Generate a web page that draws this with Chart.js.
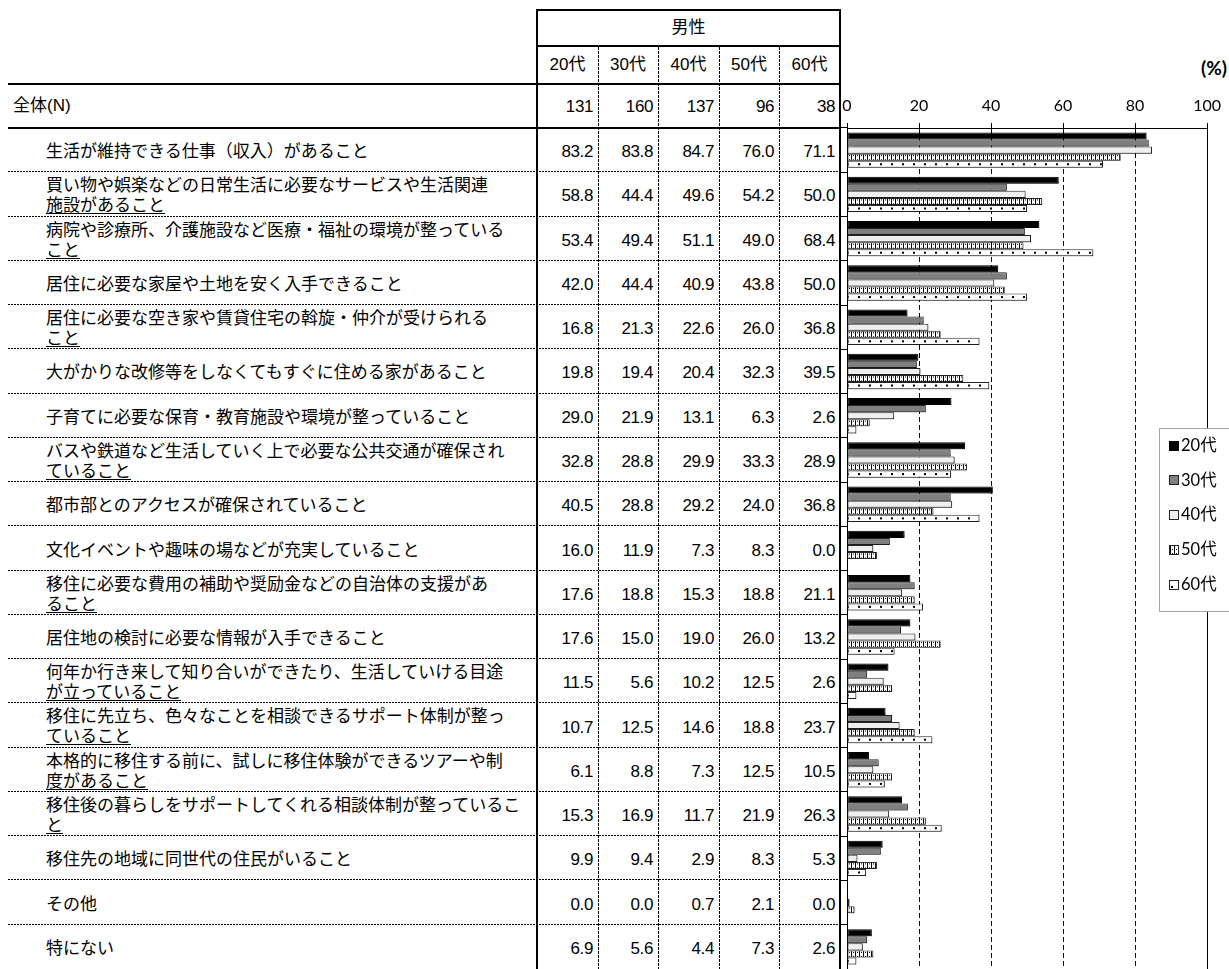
<!DOCTYPE html>
<html lang="ja">
<head>
<meta charset="utf-8">
<script src="https://cdn.jsdelivr.net/npm/chart.js@4.4.1/dist/chart.umd.min.js"></script>
<style>
  html, body { margin: 0; padding: 0; background: #fff; }
  body { width: 1229px; height: 969px; position: relative; overflow: hidden;
         font-family: "Liberation Sans", "Noto Sans CJK JP", sans-serif; color: #000; }
  .solid { position: absolute; background: #000; }
  .hdash { position: absolute; height: 1px;
           background: repeating-linear-gradient(to right, #000 0 2px, transparent 2px 3px); }
  .vdot  { position: absolute; width: 1px;
           background: repeating-linear-gradient(to bottom, #000 0 3px, transparent 3px 4px); }
  .txt   { position: absolute; white-space: nowrap; line-height: 20px; height: 20px; }
  .lbl   { position: absolute; white-space: nowrap; font-family: "Noto Sans CJK JP", sans-serif;
           font-size: 17px; line-height: 20px; }
  .lbl .l2 { display: inline-block; border-bottom: 1px solid #000; line-height: 19px; }
  .num   { text-align: right; font-size: 17px; letter-spacing: -0.4px; }
  .head  { text-align: center; font-size: 17px; }
  #unit  { position: absolute; right: 2px; top: 57px; font-family: Lato, sans-serif;
           font-weight: bold; font-size: 19px; line-height: 22px; }
  #chartBox { position: absolute; left: 800px; top: 0; width: 429px; height: 969px; }
</style>
</head>
<body>
<div id="table"></div>
<div id="unit">(%)</div>
<div id="chartBox"><canvas id="c" width="429" height="969"></canvas></div>
<script>
// ---- data -------------------------------------------------------------
const groupTitle = '男性';
const totalLabel = '全体(N)';
const ageGroups = ['20代', '30代', '40代', '50代', '60代'];
const sampleSizes = [131, 160, 137, 96, 38];

const categories = [
  '生活が維持できる仕事（収入）があること',
  '買い物や娯楽などの日常生活に必要なサービスや生活関連\n施設があること',
  '病院や診療所、介護施設など医療・福祉の環境が整っている\nこと',
  '居住に必要な家屋や土地を安く入手できること',
  '居住に必要な空き家や賃貸住宅の斡旋・仲介が受けられる\nこと',
  '大がかりな改修等をしなくてもすぐに住める家があること',
  '子育てに必要な保育・教育施設や環境が整っていること',
  'バスや鉄道など生活していく上で必要な公共交通が確保され\nていること',
  '都市部とのアクセスが確保されていること',
  '文化イベントや趣味の場などが充実していること',
  '移住に必要な費用の補助や奨励金などの自治体の支援があ\nること',
  '居住地の検討に必要な情報が入手できること',
  '何年か行き来して知り合いができたり、生活していける目途\nが立っていること',
  '移住に先立ち、色々なことを相談できるサポート体制が整っ\nていること',
  '本格的に移住する前に、試しに移住体験ができるツアーや制\n度があること',
  '移住後の暮らしをサポートしてくれる相談体制が整っているこ\nと',
  '移住先の地域に同世代の住民がいること',
  'その他',
  '特にない'
];

const male20s = [83.2, 58.8, 53.4, 42.0, 16.8, 19.8, 29.0, 32.8, 40.5, 16.0, 17.6, 17.6, 11.5, 10.7, 6.1, 15.3, 9.9, 0.0, 6.9];
const male30s = [83.8, 44.4, 49.4, 44.4, 21.3, 19.4, 21.9, 28.8, 28.8, 11.9, 18.8, 15.0, 5.6, 12.5, 8.8, 16.9, 9.4, 0.0, 5.6];
const male40s = [84.7, 49.6, 51.1, 40.9, 22.6, 20.4, 13.1, 29.9, 29.2, 7.3, 15.3, 19.0, 10.2, 14.6, 7.3, 11.7, 2.9, 0.7, 4.4];
const male50s = [76.0, 54.2, 49.0, 43.8, 26.0, 32.3, 6.3, 33.3, 24.0, 8.3, 18.8, 26.0, 12.5, 18.8, 12.5, 21.9, 8.3, 2.1, 7.3];
const male60s = [71.1, 50.0, 68.4, 50.0, 36.8, 39.5, 2.6, 28.9, 36.8, 0.0, 21.1, 13.2, 2.6, 23.7, 10.5, 26.3, 5.3, 0.0, 2.6];
const seriesValues = [male20s, male30s, male40s, male50s, male60s];

const xTickValues = [0, 20, 40, 60, 80, 100];

// ---- table (left side) -----------------------------------------------
const table = document.getElementById('table');
const colEdges = [537, 598, 658, 719, 779, 840];
const dataTop = 128, dataBottom = 969;
const rowH = (dataBottom - dataTop) / categories.length;

function box(cls, css, text) {
  const d = document.createElement('div');
  d.className = cls;
  for (const k in css) d.style[k] = typeof css[k] === 'number' ? css[k] + 'px' : css[k];
  if (text != null) d.textContent = text;
  table.appendChild(d);
  return d;
}

// frame lines
box('solid', { left: 536, top: 9, width: 2, height: 960 });
box('solid', { left: 839, top: 9, width: 2, height: 960 });
box('solid', { left: 536, top: 9, width: 305, height: 2 });
box('solid', { left: 536, top: 45, width: 305, height: 2 });
box('solid', { left: 8, top: 83, width: 833, height: 2 });
box('solid', { left: 8, top: 127, width: 833, height: 2 });
for (let j = 1; j < colEdges.length - 1; j++) {
  box('vdot', { left: colEdges[j], top: 47, height: 922 });
}
for (let i = 1; i < categories.length; i++) {
  box('hdash', { left: 8, top: Math.round(dataTop + i * rowH) - 1, width: 832 });
}

// header texts
box('txt head', { left: colEdges[0], width: colEdges[5] - colEdges[0], top: 18 }, groupTitle);
ageGroups.forEach((g, j) => {
  box('txt head', { left: colEdges[j], width: colEdges[j + 1] - colEdges[j], top: 55 }, g);
});

// N row
box('txt', { left: 13, top: 96, fontSize: '17px' }, totalLabel);
sampleSizes.forEach((n, j) => {
  box('txt num', { left: colEdges[j], width: colEdges[j + 1] - colEdges[j] - 5, top: 97 }, String(n));
});

// category rows
categories.forEach((cat, i) => {
  const top = dataTop + i * rowH;
  const lines = cat.split('\n');
  if (lines.length === 1) {
    box('lbl', { left: 46, top: top + rowH / 2 - 10 }, lines[0]);
  } else {
    const d = box('lbl', { left: 46, top: top + 2 });
    const a = document.createElement('div');
    a.textContent = lines[0];
    const b = document.createElement('span');
    b.className = 'l2';
    b.textContent = lines[1];
    d.appendChild(a);
    d.appendChild(b);
  }
  seriesValues.forEach((vals, j) => {
    box('txt num', { left: colEdges[j], width: colEdges[j + 1] - colEdges[j] - 5,
                     top: top + rowH / 2 - 8 }, vals[i].toFixed(1));
  });
});

// ---- chart (right side) ----------------------------------------------
const canvas = document.getElementById('c');
const ctx = canvas.getContext('2d');

function makePattern(w, h, paint) {
  const cv = document.createElement('canvas');
  cv.width = w; cv.height = h;
  const g = cv.getContext('2d');
  g.fillStyle = '#fff';
  g.fillRect(0, 0, w, h);
  g.fillStyle = '#000';
  paint(g);
  return ctx.createPattern(cv, 'repeat');
}
// white cells framed by a dotted row and thin black separators
const cellPattern = makePattern(4, 4, g => {
  g.fillRect(0, 0, 1, 4);
  g.fillRect(2, 0, 1, 1);
});
// sparse black dots, one row per category band
const dotPattern = makePattern(11, 44, g => { g.fillRect(0, 35, 2, 2); });

const fills = ['#000000', '#7f7f7f', '#efefef', cellPattern, dotPattern];
const strokes = ['#000000', '#262626', '#262626', '#262626', '#262626'];

// keeps pattern tiles locked to the category bands
const patternAnchor = {
  id: 'patternAnchor',
  beforeDatasetsDraw(chart) {
    const a = chart.chartArea;
    const k = (a.bottom - a.top) / chart.data.labels.length / 44;
    cellPattern.setTransform(new DOMMatrix().translate(a.left, a.top + 3).scale(1, k));
    dotPattern.setTransform(new DOMMatrix().translate(a.left, a.top).scale(1, k));
  }
};

const barShadow = {
  id: 'barShadow',
  beforeDatasetDraw(chart) {
    const c = chart.ctx;
    c.save();
    c.shadowColor = 'rgba(0,0,0,0.28)';
    c.shadowBlur = 1;
    c.shadowOffsetX = 1.5;
    c.shadowOffsetY = 1.5;
  },
  afterDatasetDraw(chart) { chart.ctx.restore(); }
};

const boxedLegend = {
  id: 'boxedLegend',
  afterDraw(chart) {
    const c = chart.ctx;
    const x0 = 359, y0 = 428, w = 100, h = 183;
    c.save();
    c.fillStyle = '#fff';
    c.fillRect(x0, y0, w, h);
    c.strokeStyle = '#a6a6a6';
    c.lineWidth = 1;
    c.strokeRect(x0 + 0.5, y0 + 0.5, w, h);
    chart.data.datasets.forEach((ds, i) => {
      const cy = 445 + i * 34.8;
      const sx = 369, sy = Math.round(cy - 4.5), s = 10;
      if (ds.backgroundColor === cellPattern) {
        cellPattern.setTransform(new DOMMatrix().translate(sx + 1, sy));
      } else if (ds.backgroundColor === dotPattern) {
        dotPattern.setTransform(new DOMMatrix().translate(sx + 2, sy + 6 - 35));
      }
      c.fillStyle = ds.backgroundColor;
      c.fillRect(sx, sy, s, s);
      c.strokeStyle = ds.borderColor;
      c.strokeRect(sx + 0.5, sy + 0.5, s - 1, s - 1);
      c.fillStyle = '#000';
      c.font = '16.5px Lato, "Noto Sans CJK JP", sans-serif';
      c.textBaseline = 'middle';
      c.textAlign = 'left';
      c.fillText(ds.label, 381, cy + 0.5);
    });
    c.restore();
  }
};

new Chart(ctx, {
  type: 'bar',
  data: {
    labels: categories.map(c => c.split('\n')),
    datasets: ageGroups.map((g, i) => ({
      label: g,
      data: seriesValues[i],
      backgroundColor: fills[i],
      borderColor: strokes[i],
      borderWidth: 1,
      borderSkipped: false,
      categoryPercentage: 0.8,
      barPercentage: 1.0
    }))
  },
  options: {
    indexAxis: 'y',
    responsive: false,
    animation: false,
    devicePixelRatio: 1,
    events: [],
    layout: { padding: { left: 0, right: 20, top: 0, bottom: 0 } },
    plugins: { legend: { display: false }, tooltip: { enabled: false } },
    scales: {
      x: {
        position: 'top',
        min: 0,
        max: 100,
        afterBuildTicks: s => { s.ticks = xTickValues.map(v => ({ value: v })); },
        afterFit: s => { s.height = 128; },
        ticks: { color: '#000', padding: 8, font: { family: 'Lato', size: 16 } },
        grid: { color: '#000', lineWidth: 1, drawTicks: true, tickLength: 5, tickColor: '#000' },
        border: {
          display: true, color: '#000', width: 1,
          dash: c => (c.tick && (c.tick.value === 0 || c.tick.value === 100)) ? [] : [5, 3]
        }
      },
      y: {
        afterFit: s => { s.width = 47; },
        ticks: { display: false },
        grid: { drawOnChartArea: false, drawTicks: true, tickLength: 6, color: '#000', offset: true },
        border: { display: true, color: '#000', width: 1 }
      }
    }
  },
  plugins: [patternAnchor, barShadow, boxedLegend]
});
</script>
</body>
</html>
